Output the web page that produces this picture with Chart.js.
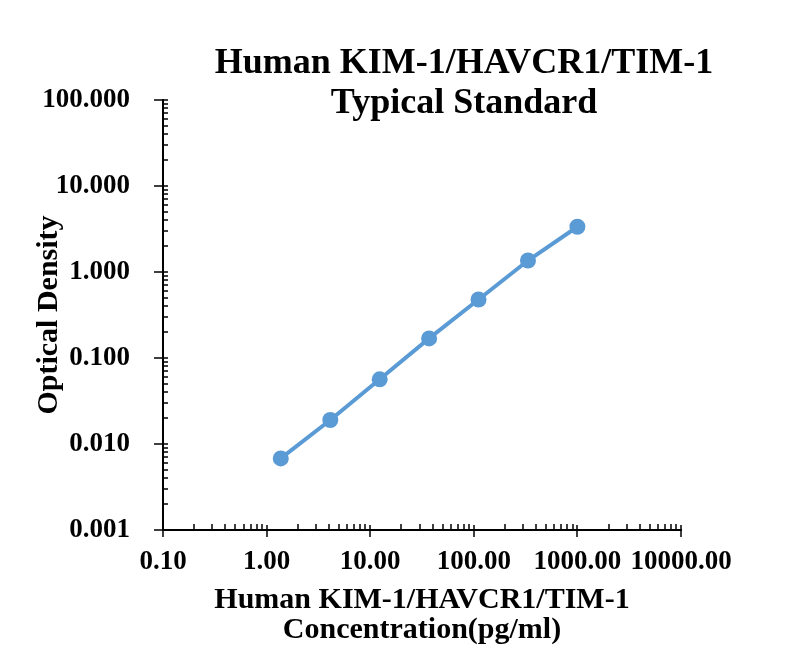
<!DOCTYPE html>
<html lang="en">
<head>
  <meta charset="UTF-8">
  <title>Human KIM-1/HAVCR1/TIM-1 Typical Standard</title>
  <script src="https://cdn.jsdelivr.net/npm/chart.js"></script>
  <style>
    body { margin: 0; background: #fff; }
  </style>
</head>
<body>
  <canvas id="myChart" width="800" height="653"></canvas>

  <script>
    const concentrations = [1.37, 4.12, 12.35, 37.04, 111.11, 333.33, 1000];
    const opticalDensity = [0.0068, 0.0190, 0.0565, 0.169, 0.479, 1.36, 3.36];
    const xTickValues = [0.1, 1, 10, 100, 1000, 10000];
    const yTickValues = [0.001, 0.01, 0.1, 1, 10, 100];
    const chartTitle = ['Human KIM-1/HAVCR1/TIM-1', 'Typical Standard'];
    const xTitle = ['Human KIM-1/HAVCR1/TIM-1', 'Concentration(pg/ml)'];
    const yTitle = 'Optical Density';

    const serif = "'Liberation Serif', 'Times New Roman', serif";
    const blue = '#5b9bd5';

    function minorValues(majors) {
      const out = [];
      majors.slice(0, -1).forEach(d => {
        for (let k = 2; k <= 9; k++) out.push(k * d);
      });
      return out;
    }

    // Excel style tick marks: majors cross the axis, minors point inwards
    const logTicks = {
      id: 'logTicks',
      afterLayout(chart) {
        // the title sits centred over a wider span than the plot area
        chart.titleBlock.left = 128;
        chart.titleBlock.right = 800;
      },
      afterDraw(chart) {
        const { ctx, scales: { x, y } } = chart;
        const ax = Math.round(y.right);
        const ay = Math.round(x.top);
        ctx.save();
        ctx.strokeStyle = '#000';
        ctx.lineWidth = 1.5;
        ctx.beginPath();
        xTickValues.forEach(v => {
          const px = Math.round(x.getPixelForValue(v));
          ctx.moveTo(px, ay - 5);
          ctx.lineTo(px, ay + 7);
        });
        minorValues(xTickValues).forEach(v => {
          const px = Math.round(x.getPixelForValue(v));
          ctx.moveTo(px, ay - 6);
          ctx.lineTo(px, ay);
        });
        yTickValues.forEach(v => {
          const py = Math.round(y.getPixelForValue(v));
          ctx.moveTo(ax - 9, py);
          ctx.lineTo(ax + 5, py);
        });
        minorValues(yTickValues).forEach(v => {
          const py = Math.round(y.getPixelForValue(v));
          ctx.moveTo(ax, py);
          ctx.lineTo(ax + 5, py);
        });
        ctx.stroke();
        ctx.restore();
      }
    };

    const ctx = document.getElementById('myChart').getContext('2d');

    new Chart(ctx, {
      type: 'line',
      data: {
        datasets: [{
          data: concentrations.map((c, i) => ({ x: c, y: opticalDensity[i] })),
          borderColor: blue,
          backgroundColor: blue,
          borderWidth: 4,
          pointRadius: 8,
          pointBorderWidth: 0,
          pointBackgroundColor: blue,
          tension: 0
        }]
      },
      options: {
        responsive: false,
        animation: false,
        devicePixelRatio: 1,
        layout: { padding: { left: 0, right: 119, top: 0, bottom: 0 } },
        plugins: {
          legend: { display: false },
          tooltip: { enabled: false },
          title: {
            display: true,
            text: chartTitle,
            color: '#000',
            font: { family: serif, size: 36, weight: 'bold', lineHeight: 40 / 36 },
            padding: { top: 43.5, bottom: -23.5 }
          }
        },
        scales: {
          x: {
            type: 'logarithmic',
            position: 'bottom',
            min: 0.1,
            max: 10000,
            afterBuildTicks: scale => { scale.ticks = xTickValues.map(v => ({ value: v })); },
            afterFit: scale => { scale.height = 123; },
            grid: { display: false, drawTicks: false },
            border: { display: true, color: '#000', width: 2 },
            ticks: {
              autoSkip: false,
              maxRotation: 0,
              padding: 16,
              color: '#000',
              font: { family: serif, size: 27, weight: 'bold' },
              callback: value => Number(value).toFixed(2)
            },
            title: {
              display: true,
              text: xTitle,
              color: '#000',
              font: { family: serif, size: 30, weight: 'bold', lineHeight: 1 },
              padding: { top: 0, bottom: 8 }
            }
          },
          y: {
            type: 'logarithmic',
            position: 'left',
            min: 0.001,
            max: 100,
            afterBuildTicks: scale => { scale.ticks = yTickValues.map(v => ({ value: v })); },
            afterFit: scale => { scale.width = 163; },
            grid: { display: false, drawTicks: false },
            border: { display: true, color: '#000', width: 2 },
            ticks: {
              autoSkip: false,
              padding: 33,
              color: '#000',
              font: { family: serif, size: 27, weight: 'bold' },
              callback: value => Number(value).toFixed(3)
            },
            title: {
              display: true,
              text: yTitle,
              color: '#000',
              font: { family: serif, size: 30, weight: 'bold', lineHeight: 1 },
              padding: { top: 34, bottom: 0 }
            }
          }
        }
      },
      plugins: [logTicks]
    });
  </script>
</body>
</html>
